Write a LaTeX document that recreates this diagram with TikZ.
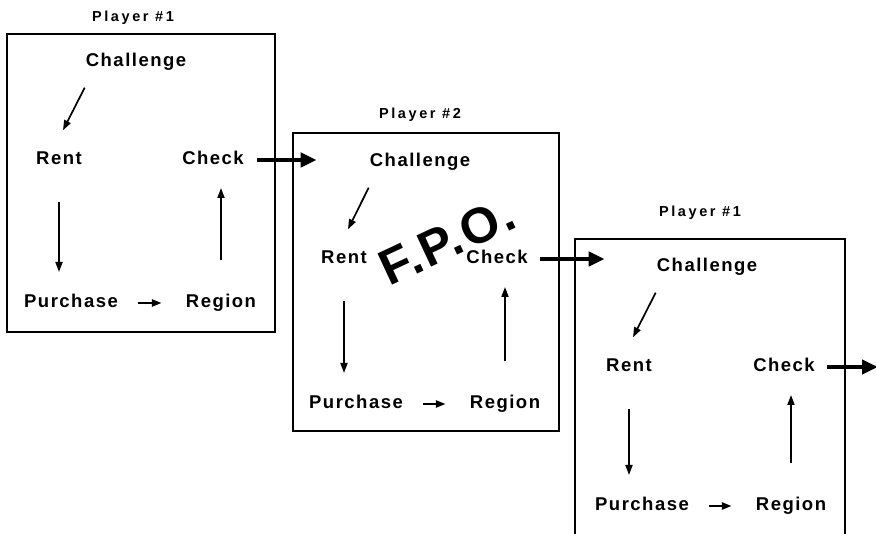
\documentclass[tikz,border=0pt]{standalone}
\usepackage{fontspec}
\setmainfont{Liberation Sans}
\newfontfamily\itemfont{Liberation Sans}[LetterSpace=8]
\newfontfamily\playerfont{Liberation Sans}[LetterSpace=18]
\newfontfamily\stampfont{Liberation Sans}[LetterSpace=4]
\usetikzlibrary{arrows.meta}

\begin{document}
\begin{tikzpicture}
		[x=1pt,y=-1pt,
		box/.style={draw,line width=1.2pt},
		player/.style={font=\playerfont\bfseries\fontsize{14.5}{16}\selectfont,inner sep=1pt},
		item/.style={font=\itemfont\bfseries\fontsize{18.5}{20}\selectfont,
inner sep=2pt,text height=13pt,text depth=4pt},
		stamp/.style={font=\stampfont\bfseries\fontsize{50}{50}\selectfont,rotate=25,inner sep=0pt},
		flow/.style={-{Triangle[length=10pt,width=7pt]},line width=1.7pt},
		pass/.style={-{Triangle[length=16pt,width=14pt]},line width=4.5pt}]
		\useasboundingbox (0,0) rectangle (876,534);
		\clip (0,0) rectangle (876,534);
		% first turn
		\draw[box] (7,34) rectangle (275,332);
		\node at (133,18) (player1) [player] {Player \#1};
		\node at (136,62) (challenge1) [item] {Challenge};
		\node at (59,160) (rent1) [item] {Rent};
		\node at (213,160) (check1) [item] {Check};
		\node at (221,303) (region1) [item] {Region};
		\node at (71,303) (purchase1) [item] {Purchase}
			edge [flow,shorten <=18,shorten >=22,line width=2.4pt] (region1);
		\draw[flow] ([shift={(1,15)}]challenge1.south west) -- ([shift={(4,-19)}]rent1.north);
		\draw[flow,shorten <=31,shorten >=31] (rent1) -- (rent1 |- purchase1);
		\draw[flow,shorten <=32,shorten >=28] (region1) -- (region1 |- check1);
		% second turn
		\draw[box] (293,133) rectangle (559,431);
		\node at (420,115) (player2) [player] {Player \#2};
		\node at (420,162) (challenge2) [item] {Challenge};
		\node at (344,259) (rent2) [item] {Rent};
		\node at (497,259) (check2) [item] {Check};
		\node at (505,404) (region2) [item] {Region};
		\node at (356,404) (purchase2) [item] {Purchase}
			edge [flow,shorten <=18,shorten >=22,line width=2.4pt] (region2);
		\draw[flow] ([shift={(1,15)}]challenge2.south west) -- ([shift={(4,-19)}]rent2.north);
		\draw[flow,shorten <=31,shorten >=31] (rent2) -- (rent2 |- purchase2);
		\draw[flow,shorten <=32,shorten >=28] (region2) -- (region2 |- check2);
		% third turn
		\draw[box] (575,239) rectangle (845,560);
		\node at (700,213) (player3) [player] {Player \#1};
		\node at (707,267) (challenge3) [item] {Challenge};
		\node at (629,367) (rent3) [item] {Rent};
		\node at (784,367) (check3) [item] {Check};
		\node at (791,506) (region3) [item] {Region};
		\node at (642,506) (purchase3) [item] {Purchase}
			edge [flow,shorten <=18,shorten >=22,line width=2.4pt] (region3);
		\draw[flow] ([shift={(1,15)}]challenge3.south west) -- ([shift={(4,-19)}]rent3.north);
		\draw[flow,shorten <=31,shorten >=31] (rent3) -- (rent3 |- purchase3);
		\draw[flow,shorten <=32,shorten >=28] (region3) -- (region3 |- check3);
		% hand over between players
		\coordinate (exit) at (878,367);
		\draw[pass,shorten <=11,shorten >=51] (check1) -- (challenge2.west |- check1);
		\draw[pass,shorten <=10,shorten >=50] (check2) -- (challenge3.west |- check2);
		\draw[pass,shorten <=10] (check3) -- (exit);
		\node at (447,241) (fpo) [stamp] {F.P.O.};
	\end{tikzpicture}
\end{document}
